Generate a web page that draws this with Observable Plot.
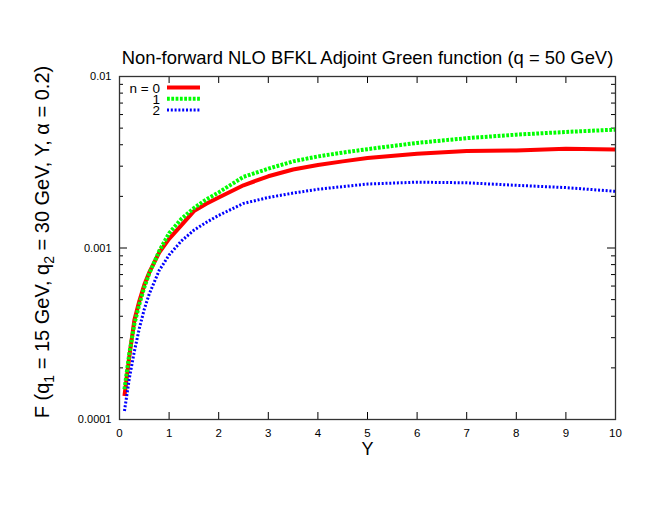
<!DOCTYPE html>
<html><head><meta charset="utf-8">
<script src="https://cdn.jsdelivr.net/npm/d3@7"></script>
<script src="https://cdn.jsdelivr.net/npm/@observablehq/plot@0.6"></script>
<style>body{margin:0;background:#fff} svg{display:block}</style>
</head><body><div id="chart"></div>
<script>
// Data
const rapidity = [0.1, 0.2, 0.3, 0.4, 0.5, 0.6, 0.8, 1.0, 1.25, 1.5, 1.75, 2, 2.5, 3, 3.5, 4, 4.5, 5, 6, 7, 8, 9, 10];
const n0 = [0.000137, 0.000235, 0.00038, 0.00049, 0.00061, 0.00072, 0.00094, 0.00113, 0.00136, 0.00164, 0.00181, 0.00197, 0.00232, 0.00262, 0.00287, 0.00305, 0.0032, 0.00335, 0.00355, 0.00368, 0.0037, 0.00379, 0.00375];
const n1 = [0.00015, 0.000245, 0.00036, 0.00047, 0.00059, 0.00071, 0.00096, 0.00122, 0.00148, 0.00171, 0.00192, 0.00211, 0.0026, 0.0029, 0.0032, 0.00342, 0.0036, 0.00377, 0.0041, 0.00437, 0.00458, 0.00475, 0.0049];
const n2 = [0.000112, 0.000175, 0.00025, 0.00034, 0.00044, 0.00054, 0.00074, 0.00091, 0.0011, 0.00127, 0.00141, 0.00155, 0.00182, 0.00197, 0.00209, 0.0022, 0.00228, 0.00236, 0.00242, 0.0024, 0.00232, 0.00225, 0.00214];
const seriesLabels = ["n = 0", "1", "2"];
const xTicks = [0, 1, 2, 3, 4, 5, 6, 7, 8, 9, 10];
const yTicks = [0.0001, 0.001, 0.01];
const yMinor = [0.0002, 0.0003, 0.0004, 0.0005, 0.0006, 0.0007, 0.0008, 0.0009, 0.002, 0.003, 0.004, 0.005, 0.006, 0.007, 0.008, 0.009];
const titleText = "Non-forward NLO BFKL Adjoint Green function (q = 50 GeV)";
const xLabel = "Y";

const styles = [
  {stroke: "#ff0000", strokeWidth: 4, dash: null},
  {stroke: "#00ff00", strokeWidth: 4, dash: "2.8,1.5"},
  {stroke: "#0000ff", strokeWidth: 3, dash: "2,1.8"}
];
const seriesValues = [n0, n1, n2];
const rows = [];
seriesValues.forEach((vals, s) => vals.forEach((v, i) => rows.push({s, x: rapidity[i], y: v})));

const W = 654, H = 505, mL = 119, mR = 39, mT = 76, mB = 86;
const innerW = W - mL - mR, innerH = H - mT - mB;
const font = "'Liberation Sans', Arial, Helvetica, sans-serif";

const plot = Plot.plot({
  width: W, height: H,
  marginLeft: mL, marginRight: mR, marginTop: mT, marginBottom: mB,
  style: {fontFamily: font, background: "#fff", color: "#000"},
  x: {domain: [0, 10]},
  y: {type: "log", domain: [1e-4, 1e-2]},
  marks: [
    Plot.axisX(xTicks, {tickSize: 0, tickPadding: 9, fontSize: 11.5, label: null, tickFormat: d => String(d)}),
    Plot.axisY(yTicks, {tickSize: 0, tickPadding: 8, fontSize: 11, label: null, tickFormat: d => String(d)}),
    Plot.tickX(xTicks, {x: d => d, insetTop: innerH - 7, stroke: "#000"}),
    Plot.tickX(xTicks, {x: d => d, insetBottom: innerH - 7, stroke: "#000"}),
    Plot.tickY(yTicks, {y: d => d, insetRight: innerW - 8, stroke: "#000"}),
    Plot.tickY(yTicks, {y: d => d, insetLeft: innerW - 8, stroke: "#000"}),
    Plot.tickY(yMinor, {y: d => d, insetRight: innerW - 4, stroke: "#000"}),
    Plot.tickY(yMinor, {y: d => d, insetLeft: innerW - 4, stroke: "#000"}),
    ...styles.map((st, s) => Plot.line(rows.filter(r => r.s === s), {
      x: "x", y: "y", stroke: st.stroke, strokeWidth: st.strokeWidth,
      strokeDasharray: st.dash, strokeLinejoin: "miter", strokeLinecap: "butt"
    })),
    Plot.frame({stroke: "#333", strokeWidth: 1.3}),
    Plot.text([titleText], {text: d => d, frameAnchor: "top", lineAnchor: "middle", dy: -18, fontSize: 18.4, fill: "#000"}),
    Plot.text([xLabel], {text: d => d, frameAnchor: "bottom", lineAnchor: "middle", dy: 29.5, fontSize: 18, fill: "#000"})
  ]
});

const svg = d3.select(plot);
// y-axis label with subscripts
const yl = svg.append("text")
  .attr("transform", "translate(49,242) rotate(-90)")
  .attr("text-anchor", "middle")
  .attr("font-size", 20)
  .attr("font-family", font)
  .attr("fill", "#000");
const parts = [["F (q", 0], ["1", 1], [" = 15 GeV, q", -1], ["2", 1], [" = 30 GeV, Y, α = 0.2)", -1]];
parts.forEach(([t, sub]) => {
  const ts = yl.append("tspan").text(t);
  if (sub === 1) ts.attr("dy", 5).attr("font-size", 14);
  if (sub === -1) ts.attr("dy", -5);
});
// legend
const lg = svg.append("g").attr("font-family", font).attr("font-size", 13.5);
seriesLabels.forEach((lab, i) => {
  const yy = 87.5 + i * 11.3;
  lg.append("text").attr("x", 160).attr("y", yy + 5).attr("text-anchor", "end").text(lab);
  lg.append("line").attr("x1", 167).attr("x2", 200).attr("y1", yy).attr("y2", yy)
    .attr("stroke", styles[i].stroke).attr("stroke-width", styles[i].strokeWidth)
    .attr("stroke-dasharray", styles[i].dash);
});

document.getElementById("chart").appendChild(plot);
</script>
</body></html>
